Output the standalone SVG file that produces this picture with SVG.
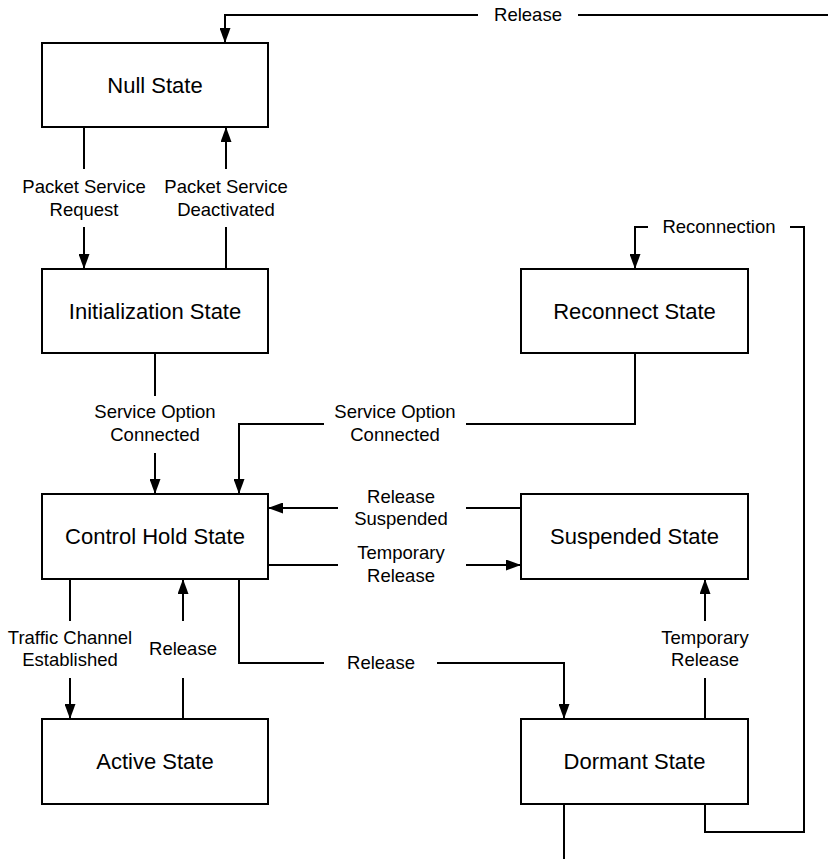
<svg xmlns="http://www.w3.org/2000/svg" width="828" height="859" viewBox="0 0 828 859">
<style>
.box{fill:#fff;stroke:#000;stroke-width:2}
.nl{font-family:"Liberation Sans",Arial,sans-serif;font-size:22px;text-anchor:middle;fill:#000}
.el{font-family:"Liberation Sans",Arial,sans-serif;font-size:18.5px;text-anchor:middle;fill:#000}
.c{fill:none;stroke:#000;stroke-width:2}
.a{marker-end:url(#ah)}
</style>
<defs>
<marker id="ah" markerUnits="userSpaceOnUse" markerWidth="15" markerHeight="11" refX="15" refY="5.5" orient="auto">
<path d="M0,0 L15,5.5 L0,11 z" fill="#000"/>
</marker>
</defs>
<rect width="828" height="859" fill="#fff"/>
<g id="connectors">
<polyline class="c" points="828,15 578,15"/>
<polyline class="c a" points="478,15 225,15 225,43"/>
<text class="el" x="528" y="21">Release</text>

<polyline class="c" points="84,127 84,169"/>
<polyline class="c a" points="84,227 84,269"/>
<text class="el" x="84" y="193">Packet Service</text>
<text class="el" x="84" y="216">Request</text>

<polyline class="c" points="226,269 226,227"/>
<polyline class="c a" points="226,169 226,127"/>
<text class="el" x="226" y="193">Packet Service</text>
<text class="el" x="226" y="216">Deactivated</text>

<polyline class="c" points="155,353 155,396"/>
<polyline class="c a" points="155,453 155,494"/>
<text class="el" x="155" y="418">Service Option</text>
<text class="el" x="155" y="441">Connected</text>

<polyline class="c" points="635,353 635,424 466,424"/>
<polyline class="c a" points="324,424 239,424 239,494"/>
<text class="el" x="395" y="418">Service Option</text>
<text class="el" x="395" y="441">Connected</text>

<polyline class="c" points="705,804 705,832 804,832 804,227 790,227"/>
<polyline class="c a" points="648,227 635,227 635,269"/>
<text class="el" x="719" y="233">Reconnection</text>

<polyline class="c" points="521,508 466,508"/>
<polyline class="c a" points="338,508 268,508"/>
<text class="el" x="401" y="503">Release</text>
<text class="el" x="401" y="525">Suspended</text>

<polyline class="c" points="268,565 338,565"/>
<polyline class="c a" points="466,565 521,565"/>
<text class="el" x="401" y="559">Temporary</text>
<text class="el" x="401" y="582">Release</text>

<polyline class="c" points="70,579 70,621"/>
<polyline class="c a" points="70,678 70,719"/>
<text class="el" x="70" y="644">Traffic Channel</text>
<text class="el" x="70" y="666">Established</text>

<polyline class="c" points="183,719 183,678"/>
<polyline class="c a" points="183,621 183,579"/>
<text class="el" x="183" y="655">Release</text>

<polyline class="c" points="239,579 239,663 324,663"/>
<polyline class="c a" points="437,663 564,663 564,719"/>
<text class="el" x="381" y="669">Release</text>

<polyline class="c" points="705,719 705,678"/>
<polyline class="c a" points="705,621 705,579"/>
<text class="el" x="705" y="644">Temporary</text>
<text class="el" x="705" y="666">Release</text>

<polyline class="c" points="564,804 564,859"/>
</g>
<g id="null-state">
<rect class="box" x="42" y="43" width="226" height="84"/>
<text class="nl" x="155" y="93">Null State</text>
</g>
<g id="initialization-state">
<rect class="box" x="42" y="269" width="226" height="84"/>
<text class="nl" x="155" y="319">Initialization State</text>
</g>
<g id="reconnect-state">
<rect class="box" x="521" y="269" width="227" height="84"/>
<text class="nl" x="634.5" y="319">Reconnect State</text>
</g>
<g id="control-hold-state">
<rect class="box" x="42" y="494" width="226" height="85"/>
<text class="nl" x="155" y="544">Control Hold State</text>
</g>
<g id="suspended-state">
<rect class="box" x="521" y="494" width="227" height="85"/>
<text class="nl" x="634.5" y="544">Suspended State</text>
</g>
<g id="active-state">
<rect class="box" x="42" y="719" width="226" height="85"/>
<text class="nl" x="155" y="769">Active State</text>
</g>
<g id="dormant-state">
<rect class="box" x="521" y="719" width="227" height="85"/>
<text class="nl" x="634.5" y="769">Dormant State</text>
</g>
</svg>
